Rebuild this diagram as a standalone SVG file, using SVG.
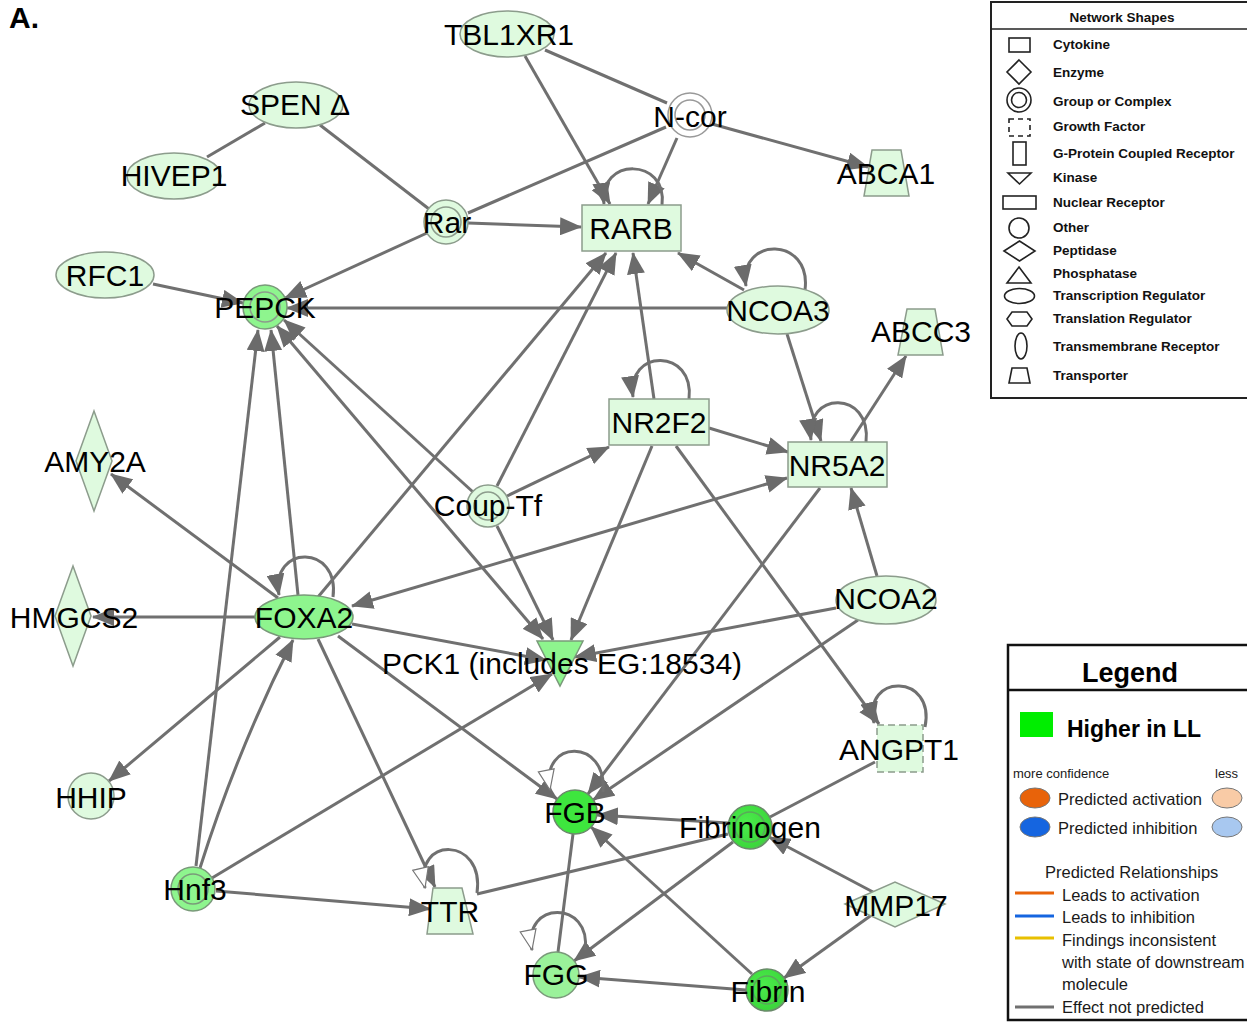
<svg xmlns="http://www.w3.org/2000/svg" width="1247" height="1024" viewBox="0 0 1247 1024">
<style>
.e{stroke:#707070;stroke-width:3;fill:none}
.a{marker-end:url(#ah)}
.b{marker-start:url(#ah);marker-end:url(#ah)}
.w{marker-end:url(#aw)}
.lt{fill:#dffadf;stroke:#8c9c8c;stroke-width:1.5}
.md{fill:#8ef58e;stroke:#7a9a7a;stroke-width:1.5}
.br{fill:#3ee63e;stroke:#6a8a6a;stroke-width:1.5}
.fg{fill:#9af29a;stroke:#7a9a7a;stroke-width:1.5}
.in{fill:none;stroke:#8c9c8c;stroke-width:1.5}
.t{font-family:"Liberation Sans",Arial,sans-serif;font-size:30px;fill:#000;text-anchor:middle}
.ls{fill:#fff;stroke:#222;stroke-width:1.6}
.lt1{font-family:"Liberation Sans",Arial,sans-serif;font-size:13.5px;font-weight:bold;fill:#111}
.lg{font-family:"Liberation Sans",Arial,sans-serif;font-size:16.5px;fill:#1a1a1a}
</style>
<defs>
<marker id="ah" viewBox="0 0 22 18" refX="21" refY="9" markerWidth="22" markerHeight="18" markerUnits="userSpaceOnUse" orient="auto-start-reverse"><path d="M0,0 L22,9 L0,18 z" fill="#6b6b6b"/></marker>
<marker id="aw" viewBox="0 0 22 18" refX="21" refY="9" markerWidth="22" markerHeight="18" markerUnits="userSpaceOnUse" orient="auto"><path d="M1,1 L21,9 L1,17 z" fill="#fff" stroke="#777" stroke-width="1.2"/></marker>
<radialGradient id="gr" cx="0.4" cy="0.4" r="0.7"><stop offset="0" stop-color="#4cec4c"/><stop offset="0.8" stop-color="#3cd83c"/><stop offset="1" stop-color="#6aa86a"/></radialGradient>
</defs>
<rect width="1247" height="1024" fill="#fff"/>
<text x="9" y="28" font-family="Liberation Sans,Arial,sans-serif" font-size="30" font-weight="bold" fill="#000">A.</text>

<g id="connectors">
<path class="e" d="M265,123 L207,157"/>
<path class="e" d="M320,125 L429,209"/>
<path class="e a" d="M525,56 L610,204"/>
<path class="e" d="M545,50 L667,103"/>
<path class="e a" d="M677,138 L648,204"/>
<path class="e a" d="M712,124 L868,167"/>
<path class="e" d="M666,127 L468,213"/>
<path class="e a" d="M468,223 L581,227"/>
<path class="e a" d="M427,233 L285,298"/>
<path class="e a" d="M153,284 L243,303"/>
<path class="e a" d="M727,308 L287,308"/>
<path class="e a" d="M744,290 L678,253"/>
<path class="e a" d="M787,334 L821,441"/>
<path class="e a" d="M318,597 L606,253"/>
<path class="e a" d="M497,486 L616,253"/>
<path class="e a" d="M654,399 L633,253"/>
<path class="e a" d="M507,496 L609,447"/>
<path class="e a" d="M709,428 L788,452"/>
<path class="e a" d="M851,441 L906,356"/>
<path class="e b" d="M352,606 L787,478"/>
<path class="e a" d="M877,576 L851,488"/>
<path class="e a" d="M836,608 L575,657"/>
<path class="e a" d="M858,620 L593,800"/>
<path class="e a" d="M820,488 L588,794"/>
<path class="e a" d="M652,446 L571,640"/>
<path class="e a" d="M676,446 L879,724"/>
<path class="e a" d="M497,526 L553,640"/>
<path class="e b" d="M277,326 L543,639"/>
<path class="e a" d="M473,492 L284,320"/>
<path class="e a" d="M298,595 L271,330"/>
<path class="e a" d="M196,866 L258,330"/>
<path class="e a" d="M278,598 L111,474"/>
<path class="e a" d="M255,617 L93,617"/>
<path class="e a" d="M280,637 L109,781"/>
<path class="e a" d="M352,624 L546,660"/>
<path class="e a" d="M338,636 L557,799"/>
<path class="e a" d="M318,639 L435,887"/>
<path class="e a" d="M200,868 Q238,748 293,640"/>
<path class="e a" d="M212,878 L552,674"/>
<path class="e a" d="M216,891 L430,909"/>
<path class="e" d="M477,894 L728,834"/>
<path class="e a" d="M728,823 L597,815"/>
<path class="e a" d="M733,842 L574,961"/>
<path class="e" d="M875,762 L770,817"/>
<path class="e a" d="M873,892 L769,837"/>
<path class="e a" d="M873,914 L784,978"/>
<path class="e a" d="M752,974 L591,827"/>
<path class="e a" d="M746,990 L579,977"/>
<path class="e" d="M573,834 L558,952"/>
<path class="e a" d="M662,205 C668,157 598,157 604,204"/>
<path class="e a" d="M805,290 C812,236 738,236 746,286"/>
<path class="e a" d="M689,399 C695,348 626,348 633,397"/>
<path class="e a" d="M866,442 C872,390 804,390 811,440"/>
<path class="e a" d="M333,597 C340,544 270,544 279,595"/>
<path class="e w" d="M603,792 C608,738 540,738 550,790"/>
<path class="e w" d="M477,893 C485,836 413,836 425,888"/>
<path class="e w" d="M585,950 C592,900 522,900 532,950"/>
<path class="e a" d="M925,727 C936,673 862,673 874,723"/>
</g>

<g id="TBL1XR1"><ellipse class="lt" cx="507" cy="34" rx="47" ry="23"/><text class="t" x="509" y="45">TBL1XR1</text></g>
<g id="SPEN"><ellipse class="lt" cx="296" cy="105" rx="47" ry="23"/><text class="t" x="295" y="115">SPEN Δ</text></g>
<g id="HIVEP1"><ellipse class="lt" cx="174" cy="176" rx="47" ry="23"/><text class="t" x="174" y="186">HIVEP1</text></g>
<g id="RFC1"><ellipse class="lt" cx="105" cy="275" rx="49" ry="23"/><text class="t" x="105" y="286">RFC1</text></g>
<g id="PEPCK"><circle class="md" cx="265" cy="307" r="22"/><circle class="in" cx="265" cy="307" r="15"/><text class="t" x="265" y="318">PEPCK</text></g>
<g id="Rar"><circle class="lt" cx="446" cy="222" r="22"/><circle class="in" cx="446" cy="222" r="15"/><text class="t" x="447" y="233">Rar</text></g>
<g id="Ncor"><circle cx="690" cy="115" r="22" fill="#fff" stroke="#999" stroke-width="1.5"/><circle class="in" cx="690" cy="115" r="15" style="stroke:#999"/><text class="t" x="690" y="127">N-cor</text></g>
<g id="ABCA1"><polygon class="lt" points="872,150 901,150 909,196 864,196"/><text class="t" x="886" y="184">ABCA1</text></g>
<g id="RARB"><rect class="lt" x="582" y="205" width="99" height="46"/><text class="t" x="631" y="239">RARB</text></g>
<g id="NCOA3"><ellipse class="lt" cx="778" cy="310" rx="51" ry="24"/><text class="t" x="778" y="321">NCOA3</text></g>
<g id="ABCC3"><polygon class="lt" points="907,309 935,309 943,355 898,355"/><text class="t" x="921" y="342">ABCC3</text></g>
<g id="NR2F2"><rect class="lt" x="609" y="399" width="100" height="46"/><text class="t" x="659" y="433">NR2F2</text></g>
<g id="NR5A2"><rect class="lt" x="788" y="442" width="99" height="45"/><text class="t" x="837" y="476">NR5A2</text></g>
<g id="AMY2A"><polygon class="lt" points="94,411 112,461 94,511 76,461"/><text class="t" x="95" y="472">AMY2A</text></g>
<g id="HMGCS2"><polygon class="lt" points="73,566 91,616 73,666 55,616"/><text class="t" x="74" y="628">HMGCS2</text></g>
<g id="FOXA2"><ellipse class="md" cx="304" cy="617" rx="49" ry="22"/><text class="t" x="304" y="628">FOXA2</text></g>
<g id="CoupTf"><circle class="lt" cx="488" cy="506" r="21"/><circle class="in" cx="488" cy="506" r="14"/><text class="t" x="488" y="516">Coup-Tf</text></g>
<g id="PCK1"><polygon class="md" points="537,641 583,641 560,686"/><text class="t" x="562" y="674">PCK1 (includes EG:18534)</text></g>
<g id="NCOA2"><ellipse class="lt" cx="886" cy="600" rx="50" ry="24"/><text class="t" x="886" y="609">NCOA2</text></g>
<g id="ANGPT1"><rect class="lt" x="877" y="725" width="46" height="47" stroke-dasharray="7,4"/><text class="t" x="899" y="760">ANGPT1</text></g>
<g id="HHIP"><circle class="lt" cx="91" cy="796" r="23"/><text class="t" x="91" y="808">HHIP</text></g>
<g id="FGB"><circle class="br" cx="575" cy="812" r="22"/><text class="t" x="575" y="823">FGB</text></g>
<g id="Fibrinogen"><circle cx="750" cy="827" r="22" fill="url(#gr)" stroke="#6a8a6a" stroke-width="1.5"/><circle cx="750" cy="827" r="15" fill="none" stroke="#5aa85a" stroke-width="1.5"/><text class="t" x="750" y="838">Fibrinogen</text></g>
<g id="Hnf3"><circle class="md" cx="193" cy="889" r="22"/><circle class="in" cx="193" cy="889" r="15" style="stroke:#7a9a7a"/><text class="t" x="195" y="900">Hnf3</text></g>
<g id="TTR"><polygon class="lt" points="433,888 462,888 473,934 427,934"/><text class="t" x="450" y="922">TTR</text></g>
<g id="MMP17"><polygon class="lt" points="845,904 895,882 945,904 895,927"/><text class="t" x="896" y="916">MMP17</text></g>
<g id="FGG"><circle class="fg" cx="556" cy="975" r="23"/><text class="t" x="556" y="985">FGG</text></g>
<g id="Fibrin"><circle cx="767" cy="990" r="21" fill="url(#gr)" stroke="#6a8a6a" stroke-width="1.5"/><circle cx="767" cy="990" r="14" fill="none" stroke="#5aa85a" stroke-width="1.5"/><text class="t" x="768" y="1002">Fibrin</text></g>

<g id="legend-shapes">
<rect x="991" y="2" width="262" height="396" fill="#fff" stroke="#222" stroke-width="2"/>
<line x1="991" y1="29" x2="1247" y2="29" stroke="#222" stroke-width="1.5"/>
<text class="lt1" x="1122" y="22" text-anchor="middle">Network Shapes</text>
<rect class="ls" x="1009" y="38" width="21" height="14"/>
<text class="lt1" x="1053" y="49">Cytokine</text>
<polygon class="ls" points="1019,60 1031,72 1019,84 1007,72"/>
<text class="lt1" x="1053" y="77">Enzyme</text>
<circle class="ls" cx="1019" cy="100" r="12"/><circle class="ls" cx="1019" cy="100" r="7.5"/>
<text class="lt1" x="1053" y="106">Group or Complex</text>
<rect class="ls" x="1009" y="119" width="21" height="17" stroke-dasharray="5,4"/>
<text class="lt1" x="1053" y="131">Growth Factor</text>
<rect class="ls" x="1013" y="142" width="13" height="23"/>
<text class="lt1" x="1053" y="158">G-Protein Coupled Receptor</text>
<polygon class="ls" points="1008,173 1031,173 1019.5,184"/>
<text class="lt1" x="1053" y="182">Kinase</text>
<rect class="ls" x="1003" y="196" width="33" height="13"/>
<text class="lt1" x="1053" y="207">Nuclear Receptor</text>
<circle class="ls" cx="1019" cy="228" r="10"/>
<text class="lt1" x="1053" y="232">Other</text>
<polygon class="ls" points="1004,251 1019.5,241 1035,251 1019.5,261"/>
<text class="lt1" x="1053" y="255">Peptidase</text>
<polygon class="ls" points="1019,267 1031,283 1007,283"/>
<text class="lt1" x="1053" y="278">Phosphatase</text>
<ellipse class="ls" cx="1019.5" cy="296" rx="15" ry="7.5"/>
<text class="lt1" x="1053" y="300">Transcription Regulator</text>
<polygon class="ls" points="1007,319 1012,312 1027,312 1032,319 1027,326 1012,326"/>
<text class="lt1" x="1053" y="323">Translation Regulator</text>
<ellipse class="ls" cx="1021" cy="346" rx="6" ry="13"/>
<text class="lt1" x="1053" y="351">Transmembrane Receptor</text>
<polygon class="ls" points="1012,368 1027,368 1030,383 1009,383"/>
<text class="lt1" x="1053" y="380">Transporter</text>
</g>

<g id="legend">
<rect x="1008" y="645" width="245" height="375" fill="#fff" stroke="#111" stroke-width="2.5"/>
<line x1="1008" y1="690" x2="1247" y2="690" stroke="#111" stroke-width="2.5"/>
<text x="1130" y="682" text-anchor="middle" font-family="Liberation Sans,Arial,sans-serif" font-size="27" font-weight="bold" fill="#000">Legend</text>
<rect x="1020" y="712" width="33" height="25" fill="#00ee00"/>
<text x="1067" y="737" font-family="Liberation Sans,Arial,sans-serif" font-size="23" font-weight="bold" fill="#000">Higher in LL</text>
<text x="1013" y="778" font-family="Liberation Sans,Arial,sans-serif" font-size="13" fill="#1a1a1a">more confidence</text>
<text x="1215" y="778" font-family="Liberation Sans,Arial,sans-serif" font-size="13" fill="#1a1a1a">less</text>
<ellipse cx="1035" cy="798" rx="15" ry="10" fill="#e8630a" stroke="#777" stroke-width="1"/>
<text class="lg" x="1058" y="805">Predicted activation</text>
<ellipse cx="1227" cy="798" rx="15" ry="10" fill="#f9cba6" stroke="#777" stroke-width="1"/>
<ellipse cx="1035" cy="827" rx="15" ry="10" fill="#1565e0" stroke="#777" stroke-width="1"/>
<text class="lg" x="1058" y="834">Predicted inhibition</text>
<ellipse cx="1227" cy="827" rx="15" ry="10" fill="#a8c8f0" stroke="#777" stroke-width="1"/>
<text class="lg" x="1045" y="878">Predicted Relationships</text>
<line x1="1015" y1="893" x2="1054" y2="893" stroke="#e8630a" stroke-width="3"/>
<text class="lg" x="1062" y="901">Leads to activation</text>
<line x1="1015" y1="916" x2="1054" y2="916" stroke="#1565e0" stroke-width="3"/>
<text class="lg" x="1062" y="923">Leads to inhibition</text>
<line x1="1015" y1="938" x2="1054" y2="938" stroke="#e8c000" stroke-width="3"/>
<text class="lg" x="1062" y="946">Findings inconsistent</text>
<text class="lg" x="1062" y="968">with state of downstream</text>
<text class="lg" x="1062" y="990">molecule</text>
<line x1="1015" y1="1007" x2="1054" y2="1007" stroke="#707070" stroke-width="3"/>
<text class="lg" x="1062" y="1013">Effect not predicted</text>
</g>
</svg>
